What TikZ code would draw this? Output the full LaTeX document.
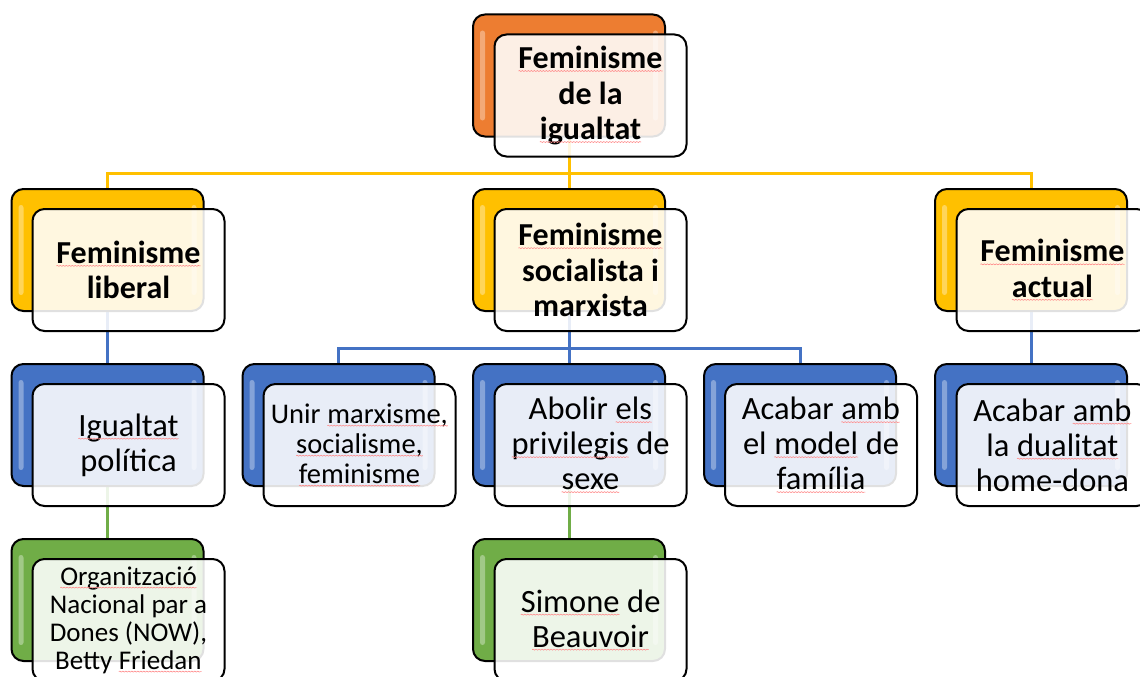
\documentclass[tikz,border=0pt]{standalone}
\usepackage{fontspec}
\setmainfont{Carlito}
\usetikzlibrary{backgrounds,decorations.pathmorphing}
\definecolor{cOr}{HTML}{ED7D31}
\definecolor{cYe}{HTML}{FFC000}
\definecolor{cBl}{HTML}{4472C4}
\definecolor{cGr}{HTML}{70AD47}
\tikzset{
  squig/.style={draw=red!45, line width=0.6pt, decorate, decoration={snake, amplitude=0.5pt, segment length=3pt}},
  backbox/.style={draw=black, line width=2pt, rounded corners=12pt, minimum width=192pt, minimum height=122pt, inner sep=0pt, fill=#1,
    path picture={
      \fill[white,opacity=0.35,rounded corners=2.5pt] ([xshift=7pt,yshift=-16pt]path picture bounding box.north west) rectangle ([xshift=12pt,yshift=16pt]path picture bounding box.south west);
      \fill[white,opacity=0.35,rounded corners=2.5pt] ([xshift=-12pt,yshift=-16pt]path picture bounding box.north east) rectangle ([xshift=-7pt,yshift=16pt]path picture bounding box.south east);
    }},
  frontbox/.style={draw=black, line width=2pt, rounded corners=12pt, minimum width=192pt, minimum height=122pt, inner sep=0pt, fill=white, fill opacity=0.88},
  tbold/.style={font=\fontsize{32}{35.5}\selectfont\bfseries, align=center, inner sep=0pt},
  treg/.style={font=\fontsize{32.5}{35}\selectfont, align=center, inner sep=0pt},
  tsmall/.style={font=\fontsize{28.5}{30}\selectfont, align=center, inner sep=0pt},
  torg/.style={font=\fontsize{27}{28}\selectfont, align=center, inner sep=0pt},
  yconn/.style={draw=cYe, line width=3pt},
  bconn/.style={draw=cBl, line width=3pt},
  gconn/.style={draw=cGr, line width=3pt},
}
\newcommand\sq[1]{\tikz[baseline=(t.base)]{\node[inner sep=0pt,outer sep=0pt,anchor=base](t){#1};\draw[squig]([yshift=-2.5pt]t.base west)--([yshift=-2.5pt]t.base east);}}
\begin{document}
\begin{tikzpicture}[x=1pt,y=-1pt]
\useasboundingbox (0,0) rectangle (1140,677);
% level 1
\node[backbox=cOr] (b0) at (569,75.5) {};
\node[frontbox] (f0) at (590.5,95.5) {};
\node[tbold] (t0) at (f0) {\sq{Feminisme}\\de la\\\sq{igualtat}};
% level 2
\node[backbox=cYe] (b1) at (107.5,250) {};
\node[frontbox] (f1) at (128.5,270) {};
\node[tbold] (t1) at (f1) {\sq{Feminisme}\\liberal};
\node[backbox=cYe] (b2) at (569,250) {};
\node[frontbox] (f2) at (590.5,270) {};
\node[tbold] (t2) at (f2) {\sq{Feminisme}\\socialista i\\marxista};
\node[backbox=cYe] (b3) at (1031,250) {};
\node[frontbox] (f3) at (1052.5,270) {};
\node[tbold] (t3) at (f3) {\sq{Feminisme}\\\sq{actual}};
% level 3
\node[backbox=cBl] (b4) at (107.5,425) {};
\node[frontbox] (f4) at (128.5,445) {};
\node[treg] (t4) at (f4) {\sq{Igualtat}\\política};
\node[backbox=cBl] (b5) at (338.5,425) {};
\node[frontbox] (f5) at (359.5,445) {};
\node[tsmall] (t5) at (f5) {Unir \sq{marxisme,}\\\sq{socialisme,}\\\sq{feminisme}};
\node[backbox=cBl] (b6) at (569,425) {};
\node[frontbox] (f6) at (590.5,445) {};
\node[treg] (t6) at (f6) {Abolir \sq{els}\\\sq{privilegis} de\\\sq{sexe}};
\node[backbox=cBl] (b7) at (800,425) {};
\node[frontbox] (f7) at (821,445) {};
\node[treg] (t7) at (f7) {Acabar \sq{amb}\\el \sq{model} de\\\sq{família}};
\node[backbox=cBl] (b8) at (1031,425) {};
\node[frontbox] (f8) at (1052.5,445) {};
\node[treg] (t8) at (f8) {Acabar \sq{amb}\\la \sq{dualitat}\\home-dona};
% level 4
\node[backbox=cGr] (b9) at (107.5,600) {};
\node[frontbox] (f9) at (128.5,620) {};
\node[torg] (t9) at (f9) {\sq{Organització}\\Nacional par a\\Dones (NOW),\\Betty \sq{Friedan}};
\node[backbox=cGr] (b10) at (569,600) {};
\node[frontbox] (f10) at (590.5,620) {};
\node[treg] (t10) at (f10) {\sq{Simone} de\\\sq{Beauvoir}};
% connectors
\begin{pgfonlayer}{background}
\coordinate (bus0) at (0,173);
\coordinate (bus1) at (0,348);
\draw[yconn] (b0.center) -- (b0.center |- bus0) -| (b1.north);
\draw[yconn] (b0.center |- bus0) -| (b3.north);
\draw[yconn] (b0.center) -- (b2.north);
\draw[bconn] (b1.center) -- (b4.north);
\draw[bconn] (b2.center) -- (b2.center |- bus1) -| (b5.north);
\draw[bconn] (b2.center |- bus1) -| (b7.north);
\draw[bconn] (b2.center) -- (b6.north);
\draw[bconn] (b3.center) -- (b8.north);
\draw[gconn] (b4.center) -- (b9.north);
\draw[gconn] (b6.center) -- (b10.north);
\end{pgfonlayer}
\end{tikzpicture}
\end{document}
